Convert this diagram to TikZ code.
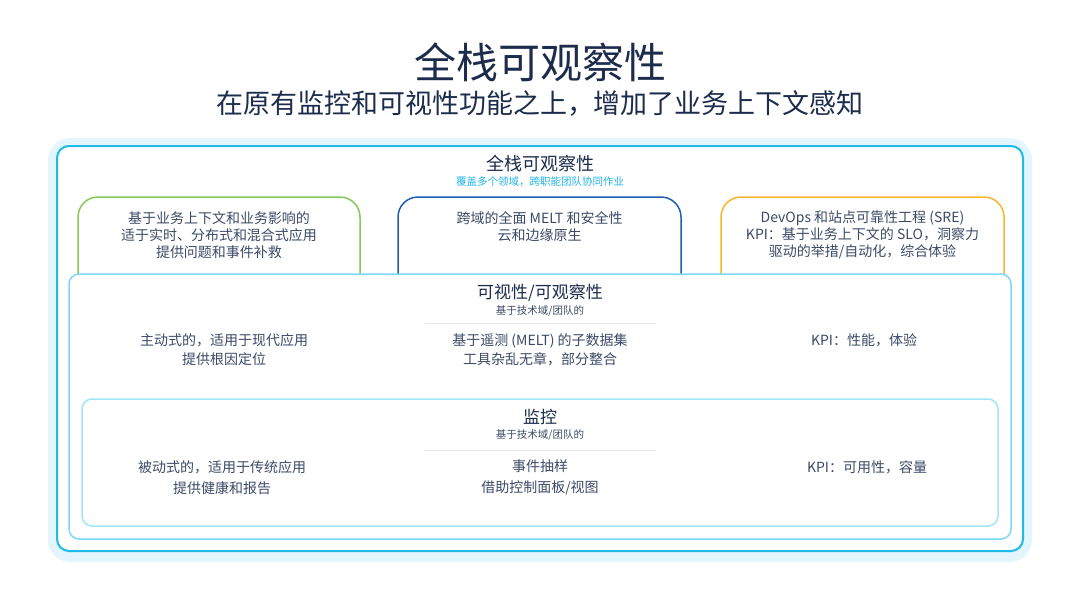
\documentclass[tikz,border=0pt]{standalone}
\usepackage{fontspec}
\setmainfont{Noto Sans CJK SC}
\usepackage{tikz}

\begin{document}
\begin{tikzpicture}[x=1pt, y=-1pt,
  panel/.style={draw, rounded corners=20pt, line width=1.5pt, fill=white, minimum width=283pt, minimum height=103pt},
  layer/.style={draw, rounded corners=10pt, line width=1.5pt, fill=white},
  heading/.style={text=titletext, font=\fontsize{17}{20}\selectfont},
  subnote/.style={text=bodytext, font=\fontsize{10.5}{12}\selectfont},
  body/.style={text=bodytext, align=center, font=\fontsize{14}{17}\selectfont},
  sepline/.style={draw=sepgray, line width=1pt}]

\definecolor{titletext}{RGB}{29, 44, 76}
\definecolor{bodytext}{RGB}{61, 74, 102}
\definecolor{sepgray}{RGB}{228, 231, 236}
\definecolor{paleband}{RGB}{228, 246, 253}
\definecolor{deepcyan}{RGB}{30, 187, 232}
\definecolor{midcyan}{RGB}{125, 218, 245}
\definecolor{lightcyan}{RGB}{160, 230, 250}
\definecolor{softgreen}{RGB}{134, 201, 90}
\definecolor{deepblue}{RGB}{31, 95, 181}
\definecolor{softorange}{RGB}{248, 181, 43}
\definecolor{notecyan}{RGB}{34, 181, 230}

\useasboundingbox (0, 0) rectangle (1080, 608);

% Titles
\node[text=titletext, font=\fontsize{42}{46}\selectfont] (title) at (540, 62) {全栈可观察性};
\node[text=titletext, font=\fontsize{27}{30}\selectfont] (subtitle) at (540, 104) {在原有监控和可视性功能之上，增加了业务上下文感知};

% Outer frames
\node[fill=paleband, rounded corners=22pt, minimum width=984pt, minimum height=424pt] (band) at (540, 350) {};
\node[draw=deepcyan, line width=2pt, fill=white, rounded corners=12pt, minimum width=966pt, minimum height=405pt] (fullstack) at (540, 348.5) {};
\node[heading, font=\fontsize{18}{20}\selectfont] (fstitle) at (540, 164) {全栈可观察性};
\node[text=notecyan, font=\fontsize{10.5}{12}\selectfont] (fsnote) at (540, 182) {覆盖多个领域，跨职能团队协同作业};

% Top panels (bottoms hidden by the layer below)
\node[panel, draw=softgreen, minimum width=282pt] (business) at (219, 248.5) {};
\node[panel, draw=deepblue] (domains) at (539.5, 248.5) {};
\node[panel, draw=softorange] (sre) at (862.5, 248.5) {};
\node[body] (businesstext) at (219, 235) {基于业务上下文和业务影响的\\适于实时、分布式和混合式应用\\提供问题和事件补救};
\node[body] (domainstext) at (539.5, 227) {跨域的全面 MELT 和安全性\\云和边缘原生};
\node[body] (sretext) at (862.5, 235) {DevOps 和站点可靠性工程 (SRE)\\KPI：基于业务上下文的 SLO，洞察力\\驱动的举措/自动化，综合体验};

% Visibility layer
\node[layer, draw=midcyan, minimum width=942pt, minimum height=265pt] (visibility) at (540, 406.5) {};
\node[heading] (vistitle) at (540, 293) {可视性/可观察性};
\node[subnote] (visnote) at (540, 311) {基于技术域/团队的};
\draw[sepline] (425, 323) -- (656, 323);
\node[body] (visleft) at (224, 349.5) {主动式的，适用于现代应用\\[2pt]提供根因定位};
\node[body] (viscenter) at (540, 349.5) {基于遥测 (MELT) 的子数据集\\[2pt]工具杂乱无章，部分整合};
\node[body] (visright) at (864, 340) {KPI：性能，体验};

% Monitoring layer
\node[layer, draw=lightcyan, minimum width=916pt, minimum height=127pt] (monitoring) at (540, 462.5) {};
\node[heading] (montitle) at (540, 417) {监控};
\node[subnote] (monnote) at (540, 435) {基于技术域/团队的};
\draw[sepline] (425, 450) -- (656, 450);
\node[body] (monleft) at (222, 477.5) {被动式的，适用于传统应用\\[4pt]提供健康和报告};
\node[body] (moncenter) at (540, 477.5) {事件抽样\\[4pt]借助控制面板/视图};
\node[body] (monright) at (867, 467) {KPI：可用性，容量};

\end{tikzpicture}
\end{document}
